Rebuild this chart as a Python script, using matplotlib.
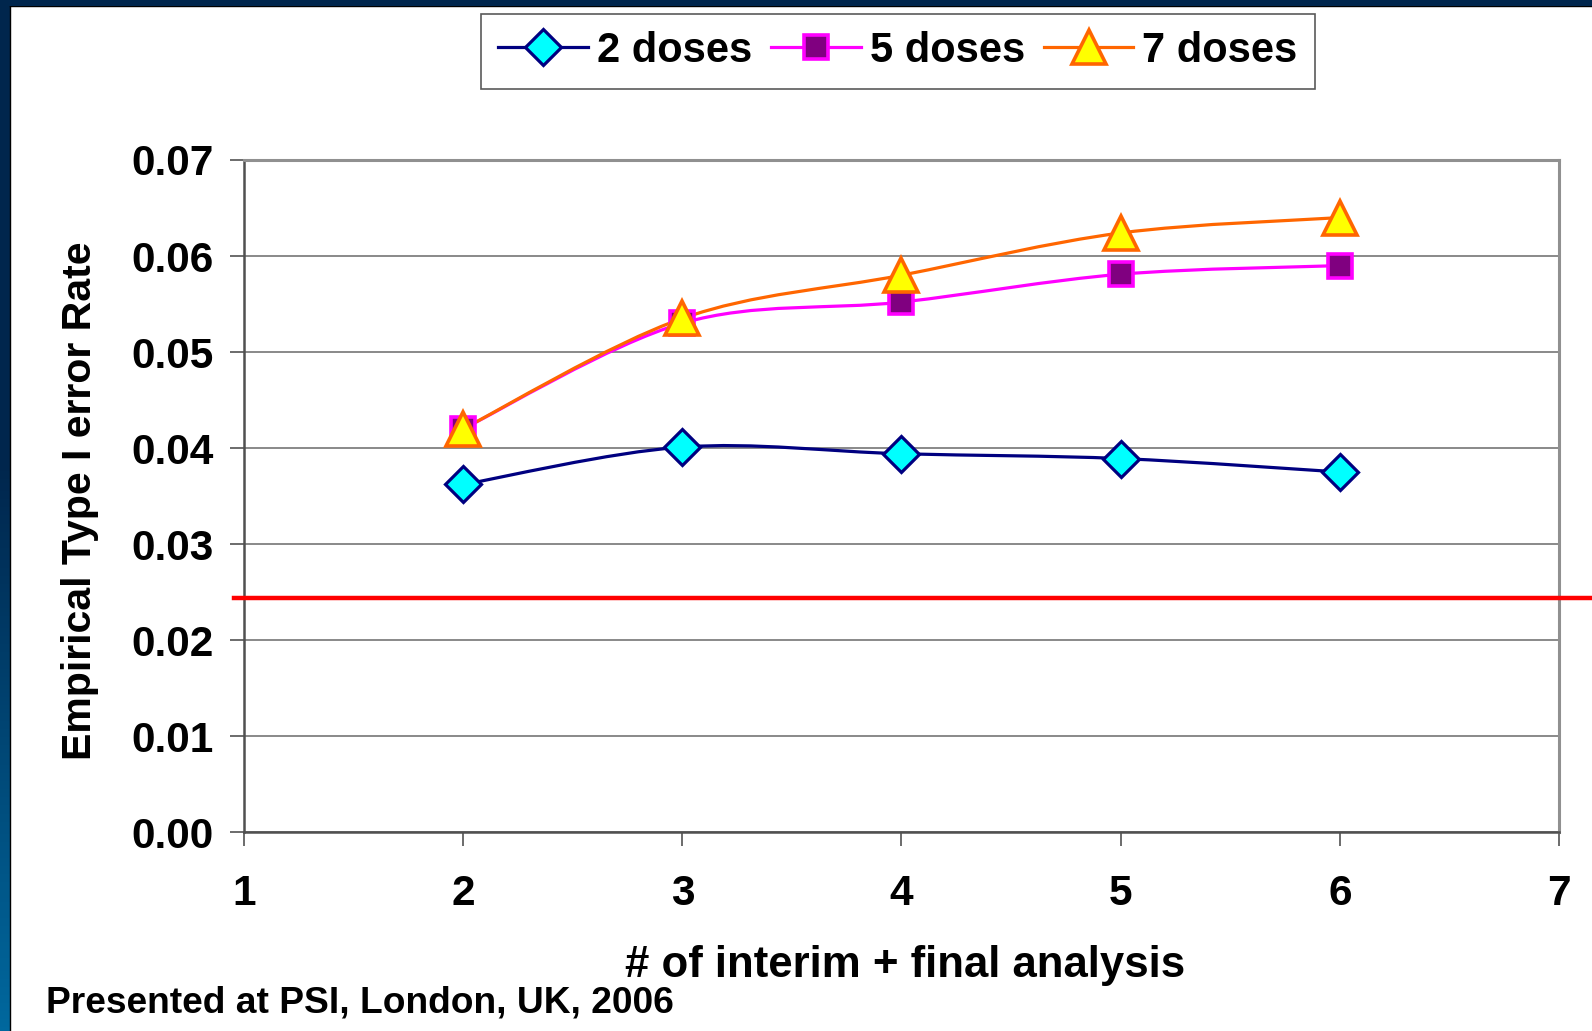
import numpy as np
import matplotlib
matplotlib.use("Agg")
import matplotlib.pyplot as plt
from matplotlib.path import Path
from matplotlib.patches import PathPatch, Rectangle
from matplotlib.lines import Line2D
from matplotlib.colors import LinearSegmentedColormap

plt.rcParams['font.family'] = ['Liberation Sans', 'DejaVu Sans']
plt.rcParams['font.weight'] = 'bold'

# ---- data ----
analyses = [2, 3, 4, 5, 6]
doses2 = [0.0362, 0.0401, 0.0394, 0.0389, 0.0375]
doses5 = [0.0420, 0.0530, 0.0552, 0.0581, 0.0590]
doses7 = [0.0420, 0.0535, 0.0580, 0.0624, 0.0640]
nominal_alpha = 0.0244
series_labels = ["2 doses", "5 doses", "7 doses"]
x_ticks = [1, 2, 3, 4, 5, 6, 7]
y_ticks = [0.00, 0.01, 0.02, 0.03, 0.04, 0.05, 0.06, 0.07]

W, H = 1592, 1031
fig = plt.figure(figsize=(W / 100, H / 100), dpi=100)
fig.patch.set_facecolor('white')

ax = fig.add_axes([244 / W, 1 - 832 / H, 1315 / W, 672 / H])
ax.set_xlim(1, 7)
ax.set_ylim(0, 0.07)


def smooth_path(xs, ys):
    pts = np.column_stack([xs, ys]).astype(float)
    n = len(pts)
    verts = [pts[0]]
    codes = [Path.MOVETO]
    for i in range(n - 1):
        p0 = pts[i - 1] if i > 0 else pts[i]
        p1 = pts[i]
        p2 = pts[i + 1]
        p3 = pts[i + 2] if i + 2 < n else pts[i + 1]
        c1 = p1 + (p2 - p0) / 6.0
        c2 = p2 - (p3 - p1) / 6.0
        verts += [c1, c2, p2]
        codes += [Path.CURVE4] * 3
    return Path(verts, codes)


styles = [
    dict(color='#000080', marker='D', mfc='#00FFFF', mec='#000080', ms=18, mew=2.3),
    dict(color='#FF00FF', marker='s', mfc='#800080', mec='#FF00FF', ms=17, mew=2.6),
    dict(color='#FF6600', marker='^', mfc='#FFFF00', mec='#FF6600', ms=25, mew=2.6),
]
data = [doses2, doses5, doses7]

for ys, st in zip(data, styles):
    patch = PathPatch(smooth_path(analyses, ys), facecolor='none',
                      edgecolor=st['color'], lw=2.3, zorder=3)
    ax.add_patch(patch)
for ys, st in zip(data, styles):
    ax.plot(analyses, ys, linestyle='none', marker=st['marker'], mfc=st['mfc'],
            mec=st['mec'], ms=st['ms'], mew=st['mew'], zorder=4, clip_on=False)

# nominal level line, extended beyond the plot area
ax.axhline(nominal_alpha, xmin=-10 / 1315, xmax=(W - 244) / 1315, color='#FF0000',
           lw=3.2, clip_on=False, zorder=5)

ax.set_yticks(y_ticks)
ax.set_yticklabels([f"{v:.2f}" for v in y_ticks])
ax.set_xticks(x_ticks)
ax.set_xticklabels([str(v) for v in x_ticks])
ax.grid(axis='y', color='#808080', lw=1.3, zorder=1)
ax.set_axisbelow(True)
ax.tick_params(axis='both', direction='out', length=10, width=1.3, color='#606060',
               labelsize=30.5)
ax.tick_params(axis='y', pad=12)
ax.tick_params(axis='x', pad=20)
for lab in ax.get_xticklabels() + ax.get_yticklabels():
    lab.set_fontweight('bold')
for s in ['left', 'bottom']:
    ax.spines[s].set_color('#505050')
    ax.spines[s].set_linewidth(1.8)
for s in ['right', 'top']:
    ax.spines[s].set_color('#909090')
    ax.spines[s].set_linewidth(2.2)

fig.text(80 / W, 1 - 501 / H, "Empirical Type I error Rate", rotation=90,
         ha='center', va='center', fontsize=29.5, fontweight='bold')
fig.text(905 / W, 1 - 966 / H, "# of interim + final analysis",
         ha='center', va='center', fontsize=31.5, fontweight='bold')
fig.text(46 / W, 1 - 1003 / H, "Presented at PSI, London, UK, 2006",
         ha='left', va='center', fontsize=26.7, fontweight='bold')

handles = [Line2D([0], [0], color=st['color'], lw=2.3, marker=st['marker'],
                  mfc=st['mfc'], mec=st['mec'], ms=st['ms'], mew=st['mew'])
           for st in styles]
leg = fig.legend(handles, series_labels, loc='center', ncol=3,
                 bbox_to_anchor=(898 / W, 1 - 51 / H),
                 prop={'size': 30, 'weight': 'bold'}, frameon=True, fancybox=False,
                 handlelength=2.15, handletextpad=0.22, columnspacing=0.45,
                 borderpad=0.42, borderaxespad=0)
leg.get_frame().set_edgecolor('#303030')
leg.get_frame().set_linewidth(1.2)

# slide border: top bar and gradient left bar
fig.patches.append(Rectangle((0, 1 - 6 / H), 1, 6 / H, transform=fig.transFigure,
                             facecolor='#00264d', edgecolor='none', zorder=10))
bax = fig.add_axes([0, 0, 10 / W, 1])
bax.set_axis_off()
cmap = LinearSegmentedColormap.from_list('b', [(0, '#00264d'), (0.45, '#00264d'), (1, '#00689e')])
grad = np.linspace(0, 1, 256).reshape(-1, 1)
bax.imshow(grad, aspect='auto', cmap=cmap, extent=[0, 1, 0, 1], origin='upper')
fig.add_artist(Line2D([10 / W, 10 / W], [0, 1 - 6 / H], transform=fig.transFigure,
                      color='black', lw=1))
fig.add_artist(Line2D([10 / W, 1], [1 - 6 / H, 1 - 6 / H], transform=fig.transFigure,
                      color='black', lw=1))

fig.savefig('out.png', dpi=100)
